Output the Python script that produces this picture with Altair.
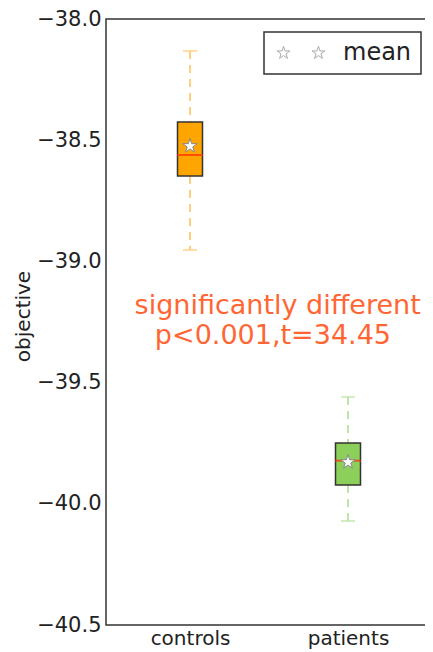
import altair as alt
import pandas as pd
import numpy as np

# ---- data ----
groups = ["controls", "patients"]
positions = [1, 2]
q1 = [-38.648, -39.922]
q3 = [-38.425, -39.749]
medians = [-38.561, -39.822]
means = [-38.524, -39.828]
whisker_low = [-38.953, -40.071]
whisker_high = [-38.132, -39.559]
box_colors = ["#FFA500", "#8CCF5A"]
whisker_colors = ["#FFCF80", "#C0E5A8"]

y_ticks = [-40.5, -40.0, -39.5, -39.0, -38.5, -38.0]
annot_lines = ["significantly different", "p<0.001,t=34.45"]
annot_x = [1.555, 1.525]
annot_y = [-39.219, -39.341]
legend_label = ["mean"]


def star_path(cx=0.0, cy=0.0, r=1.0, inner=0.382):
    pts = []
    for k in range(10):
        ang = -np.pi / 2 + k * np.pi / 5
        rad = r if k % 2 == 0 else r * inner
        pts.append((cx + rad * np.cos(ang), cy + rad * np.sin(ang)))
    return "M" + " L".join(f"{x:.4f},{y:.4f}" for x, y in pts) + " Z"


STAR = star_path()
# two stars side by side for the legend symbol (unit = 7.5 px)
DOUBLE_STAR = star_path(-2.33, 0.0, 0.9) + " " + star_path(2.33, 0.0, 0.9)

df = pd.DataFrame({
    "group": groups,
    "pos": positions,
    "q1": q1,
    "q3": q3,
    "median": medians,
    "mean": means,
    "wlo": whisker_low,
    "whi": whisker_high,
    "boxcolor": box_colors,
    "wcolor": whisker_colors,
    "series": legend_label * len(groups),
})

ann = pd.DataFrame({"text": annot_lines, "x": annot_x, "y": annot_y})

label_expr = "datum.value == 1 ? '%s' : datum.value == 2 ? '%s' : ''" % (groups[0], groups[1])

xscale = alt.Scale(domain=[0.5, 2.5], nice=False, zero=False)
yscale = alt.Scale(domain=[-40.5, -38.0], nice=False, zero=False)

FONT = "DejaVu Sans"
INK = "#222"

xenc = alt.X("pos:Q", scale=xscale,
             axis=alt.Axis(values=positions, labelExpr=label_expr, title=None,
                           grid=False, tickSize=0, labelPadding=3, labelFontSize=20,
                           labelFont=FONT, labelColor=INK, domain=False))
yenc = alt.Y("q1:Q", scale=yscale,
             axis=alt.Axis(values=y_ticks, format=".1f", title="objective", grid=False,
                           tickSize=0, labelPadding=5, labelFontSize=21, labelFont=FONT,
                           labelColor=INK, titleFont=FONT, titleFontSize=20,
                           titleFontWeight="normal", titleColor=INK,
                           titleX=-73, titleY=297, domain=False))

base = alt.Chart(df)

whisk_top = base.mark_rule(strokeWidth=2, strokeDash=[8, 6]).encode(
    x=xenc, y=alt.Y("whi:Q", scale=yscale), y2="q3:Q",
    color=alt.Color("wcolor:N", scale=None))
whisk_bot = base.mark_rule(strokeWidth=2, strokeDash=[8, 6]).encode(
    x="pos:Q", y=alt.Y("q1:Q", scale=yscale), y2="wlo:Q",
    color=alt.Color("wcolor:N", scale=None))
cap_top = base.mark_tick(orient="horizontal", size=14, thickness=2).encode(
    x="pos:Q", y=alt.Y("whi:Q", scale=yscale), color=alt.Color("wcolor:N", scale=None))
cap_bot = base.mark_tick(orient="horizontal", size=14, thickness=2).encode(
    x="pos:Q", y=alt.Y("wlo:Q", scale=yscale), color=alt.Color("wcolor:N", scale=None))

boxes = base.mark_bar(size=25, stroke="#333", strokeWidth=1.5).encode(
    x="pos:Q", y=yenc, y2="q3:Q", fill=alt.Fill("boxcolor:N", scale=None))

med = base.mark_tick(orient="horizontal", size=26, thickness=2, color="#FF2A00").encode(
    x="pos:Q", y=alt.Y("median:Q", scale=yscale))

stars = base.mark_point(shape=STAR, size=230, filled=True, stroke="#888",
                        strokeWidth=1, opacity=1).encode(
    x="pos:Q", y=alt.Y("mean:Q", scale=yscale),
    color=alt.Color("series:N", scale=alt.Scale(range=["white"]),
                    legend=alt.Legend(title=None, orient="none", legendX=158, legendY=13,
                                      symbolType=DOUBLE_STAR, symbolSize=225,
                                      symbolStrokeColor="#888", symbolStrokeWidth=1,
                                      symbolFillColor="white", symbolOffset=16,
                                      labelFontSize=24, labelFont=FONT, labelColor=INK,
                                      labelOffset=30, padding=9,
                                      strokeColor="#333", fillColor="white")))

text = alt.Chart(ann).mark_text(font=FONT, fontSize=27, color="#FF6633",
                                align="center", baseline="alphabetic").encode(
    x=alt.X("x:Q", scale=xscale), y=alt.Y("y:Q", scale=yscale), text="text:N")

chart = alt.layer(whisk_top, whisk_bot, cap_top, cap_bot, boxes, med, stars, text).properties(
    width=326, height=606,
    padding={"left": 98, "top": 11, "right": -7, "bottom": 27},
    autosize=alt.AutoSizeParams(type="none"),
).configure_view(stroke="#333", strokeWidth=1.5).configure_legend(
    strokeWidth=1.5, cornerRadius=0)

chart.save("out.html", embed_options={"renderer": "svg", "actions": False})
